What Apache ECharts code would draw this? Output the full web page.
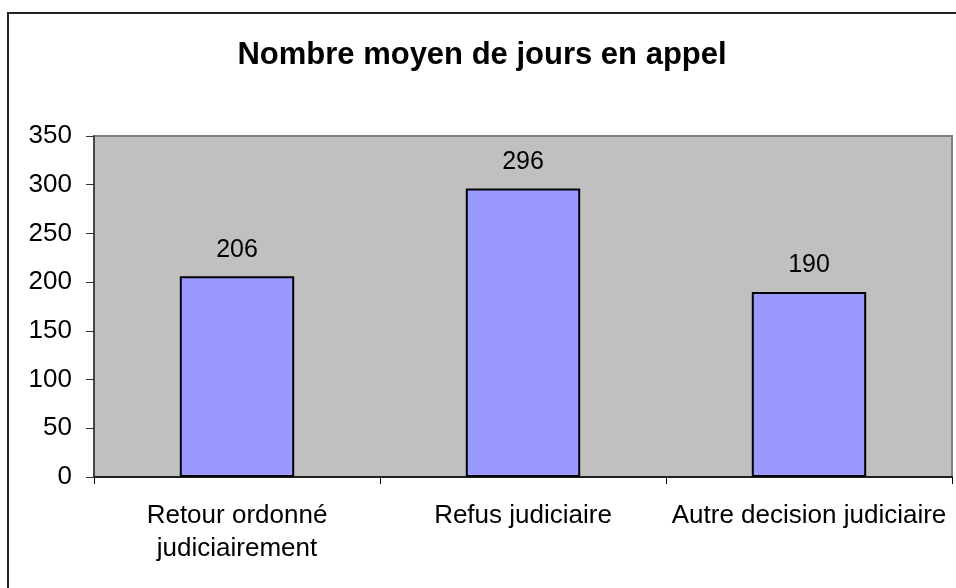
<!DOCTYPE html>
<html>
<head>
    <meta charset="utf-8" />
    <title>Nombre moyen de jours en appel</title>
    <script src="https://cdn.jsdelivr.net/npm/echarts@6/dist/echarts.min.js"></script>
    <style>
        html, body { margin: 0; padding: 0; background: #fff; }
    </style>
</head>
<body>
<div id="main" style="width:956px;height:588px;"></div>
<script type="text/javascript">
    var categories = ['Retour ordonné\njudiciairement', 'Refus judiciaire', 'Autre decision judiciaire'];
    var jours = [206, 296, 190];
    var yTicks = [0, 50, 100, 150, 200, 250, 300, 350];

    var font = 'Liberation Sans, Arial, sans-serif';
    var myChart = echarts.init(document.getElementById('main'));

    var option = {
        backgroundColor: '#fff',
        animation: false,
        title: {
            text: 'Nombre moyen de jours en appel',
            left: 477,
            top: 35,
            textAlign: 'center',
            textStyle: { fontFamily: font, fontSize: 31, fontWeight: 'bold', color: '#000' }
        },
        // cadre autour du graphique
        graphic: [{
            type: 'rect',
            shape: { x: 8, y: 13, width: 1000, height: 1000 },
            style: { fill: 'none', stroke: '#222', lineWidth: 2 }
        }],
        grid: {
            left: 94, right: 4, top: 136, bottom: 111,
            show: true,
            backgroundColor: '#C0C0C0',
            borderColor: '#808080',
            borderWidth: 2
        },
        xAxis: {
            type: 'category',
            data: categories,
            axisLine: { lineStyle: { color: '#000', width: 1.5 } },
            axisTick: { show: true, alignWithLabel: false, length: 7, lineStyle: { color: '#000' } },
            axisLabel: {
                color: '#000', fontFamily: font, fontSize: 26, lineHeight: 33, margin: 22, interval: 0
            }
        },
        yAxis: {
            type: 'value',
            min: yTicks[0],
            max: yTicks[yTicks.length - 1],
            interval: 50,
            axisLine: { show: true, lineStyle: { color: '#333', width: 1.5 } },
            axisTick: { show: true, length: 8, lineStyle: { color: '#333' } },
            splitLine: { show: false },
            axisLabel: { color: '#000', fontFamily: font, fontSize: 26, margin: 22 }
        },
        series: [{
            type: 'bar',
            data: jours,
            barWidth: '40%',
            itemStyle: { color: '#9999FF', borderColor: '#000', borderWidth: 2 },
            label: {
                show: true,
                position: 'top',
                distance: 14,
                color: '#000',
                fontFamily: font,
                fontSize: 25
            }
        }]
    };

    myChart.setOption(option);
</script>
</body>
</html>
